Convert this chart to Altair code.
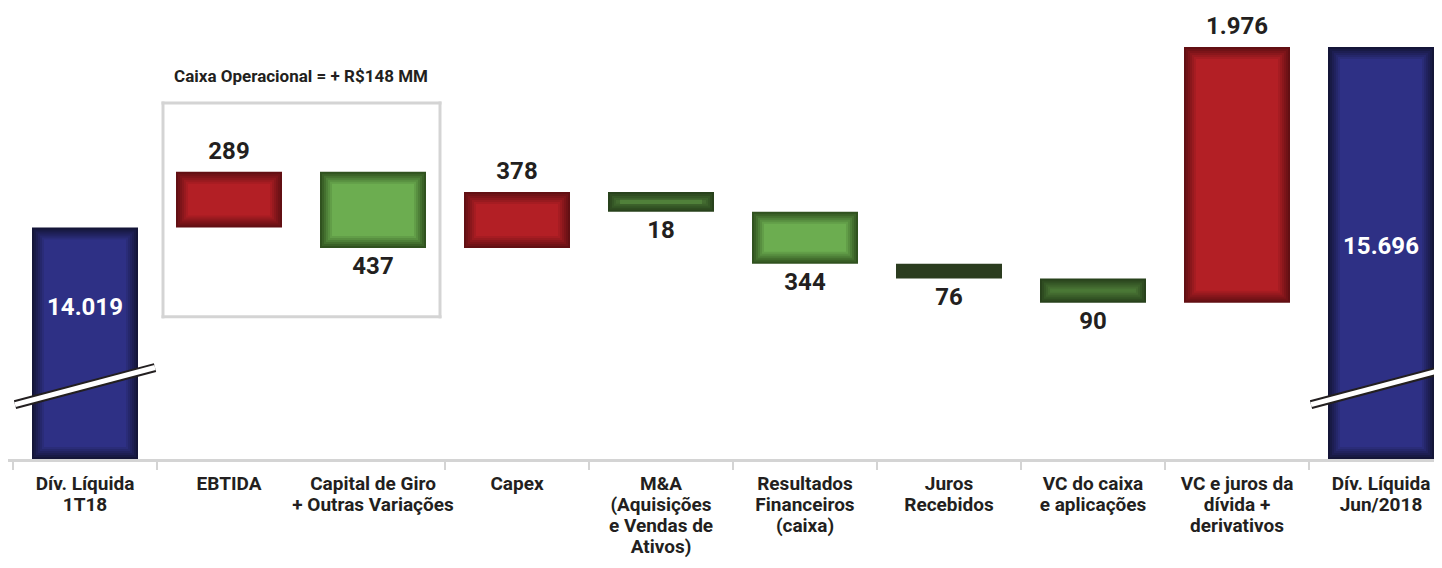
import altair as alt
import pandas as pd

# ---------------- data ----------------
categories = [
    "Dív. Líquida\n1T18",
    "EBTIDA",
    "Capital de Giro\n+ Outras Variações",
    "Capex",
    "M&A\n(Aquisições\ne Vendas de\nAtivos)",
    "Resultados\nFinanceiros\n(caixa)",
    "Juros\nRecebidos",
    "VC do caixa\ne aplicações",
    "VC e juros da\ndívida +\nderivativos",
    "Dív. Líquida\nJun/2018",
]
values = [14019, 289, 437, 378, 18, 344, 76, 90, 1976, 15696]
kinds = ["total", "up", "down", "up", "down2", "down", "flat", "down2", "up", "total"]
# drawn bar extents on the (broken, not-to-scale) chart axis, 0 = baseline, 100 = tallest bar
bar_top = [56.2, 69.7, 69.7, 64.8, 64.8, 60.0, 47.4, 43.8, 100.0, 100.0]
bar_bottom = [0.0, 56.2, 51.2, 51.2, 60.0, 47.4, 43.8, 37.9, 37.9, 0.0]

group_title = "Caixa Operacional = + R$148 MM"
group_members = ["EBTIDA", "Capital de Giro\n+ Outras Variações"]

# ---------------- styling ----------------
FONT = "Roboto"
TXT = "#231f20"
GRID = "#d4d4d4"
palette = {
    "total": ("#141538", "#2e3085"),
    "up": ("#620f13", "#b31f25"),
    "down": ("#30521f", "#6cad50"),
    "down2": ("#28421c", "#50803a"),
    "flat": ("#2b3c1f", "#2b3c1f"),
}


def mix(c1, c2, t):
    a = [int(c1[i:i + 2], 16) for i in (1, 3, 5)]
    b = [int(c2[i:i + 2], 16) for i in (1, 3, 5)]
    return "#" + "".join(f"{round(x + (y - x) * t):02x}" for x, y in zip(a, b))


def fmt(v):
    return f"{v:,}".replace(",", ".")


steps = [0, 2, 4, 6, 8, 10, 12]
df = pd.DataFrame({
    "cat": categories,
    "top": bar_top,
    "bottom": bar_bottom,
    "kind": kinds,
    "label": [fmt(v) for v in values],
})
for k in steps:
    df[f"c{k}"] = [mix(palette[kd][0], palette[kd][1], k / steps[-1]) for kd in kinds]

BAR_W = 106
xscale = alt.Scale(domain=categories, range=[5, 1445], paddingInner=0.264, paddingOuter=0.132)
X = alt.X("cat:N", scale=xscale, axis=None)
yscale = alt.Scale(domain=[0, 100], range=[451, 39])
base = alt.Chart(df)

layers = []
# bevelled bars: stacked insets from dark edge to bright centre
for k in steps:
    layers.append(
        base.mark_bar(width=BAR_W - 2 * k, yOffset=k, y2Offset=-k).encode(
            x=X,
            y=alt.Y("top:Q", scale=yscale, axis=None),
            y2="bottom:Q",
            color=alt.Color(f"c{k}:N", scale=None),
        )
    )

# value labels
lab_style = dict(font=FONT, fontSize=24, fontWeight="bold", baseline="middle")
layers.append(
    base.transform_filter(alt.datum.kind == "up")
    .mark_text(dy=-20, color=TXT, **lab_style)
    .encode(x=X, y=alt.Y("top:Q", scale=yscale), text="label:N")
)
layers.append(
    base.transform_filter((alt.datum.kind != "up") & (alt.datum.kind != "total"))
    .mark_text(dy=19, color=TXT, **lab_style)
    .encode(x=X, y=alt.Y("bottom:Q", scale=yscale), text="label:N")
)
tot = df[df.kind == "total"].copy()
tot["ly"] = [36.7, 51.5]
layers.append(
    alt.Chart(tot).mark_text(color="white", **lab_style)
    .encode(x=X, y=alt.Y("ly:Q", scale=yscale), text="label:N")
)

# baseline axis + separator ticks
layers.append(
    alt.Chart(pd.DataFrame({"lvl": [0]})).mark_rule(color=GRID, strokeWidth=3, yOffset=1.5)
    .encode(y=alt.Y("lvl:Q", scale=yscale), x=alt.value(0), x2=alt.value(1426))
)
tick_df = pd.DataFrame({"cat": [c for c in categories if c != group_members[1]]})
layers.append(
    alt.Chart(tick_df).mark_rule(color=GRID, strokeWidth=2, xOffset=-72)
    .encode(x=X, y=alt.value(452), y2=alt.value(462))
)

# category labels
layers.append(
    alt.Chart(pd.DataFrame({"cat": categories})).mark_text(
        font=FONT, fontSize=19, fontWeight="bold", color=TXT, baseline="top",
        lineBreak="\n", lineHeight=21,
    ).encode(x=X, y=alt.value(467), text="cat:N")
)

# "Caixa Operacional" box
box_top, box_bottom = 86.4, 34.5
layers.append(
    alt.Chart(pd.DataFrame({"cat": [group_members[0]] * 2, "cat2": [group_members[1]] * 2,
                            "y": [box_top, box_bottom]}))
    .mark_rule(color=GRID, strokeWidth=3, xOffset=-66, x2Offset=67, strokeCap="square")
    .encode(x=X, x2="cat2:N", y=alt.Y("y:Q", scale=yscale))
)
for member, off in [(group_members[0], -66), (group_members[1], 67)]:
    layers.append(
        alt.Chart(pd.DataFrame({"cat": [member], "y": [box_top], "y2": [box_bottom]}))
        .mark_rule(color=GRID, strokeWidth=3, xOffset=off, strokeCap="square")
        .encode(x=X, y=alt.Y("y:Q", scale=yscale), y2="y2:Q")
    )
layers.append(
    alt.Chart(pd.DataFrame({"cat": [group_members[0]], "y": [92.7], "t": [group_title]}))
    .mark_text(font=FONT, fontSize=17, fontWeight="bold", color=TXT, dx=72, baseline="middle")
    .encode(x=X, y=alt.Y("y:Q", scale=yscale), text="t:N")
)

# axis-break marks on the two total bars
brk = pd.DataFrame({"cat": [categories[0], categories[-1]], "y0": [13.2, 13.2], "y1": [22.2, 22.2]})
for col, w in [("#231f20", 9), ("white", 5)]:
    layers.append(
        alt.Chart(brk).mark_rule(color=col, strokeWidth=w, xOffset=-70, x2Offset=70, strokeCap="butt")
        .encode(x=X, x2="cat:N", y=alt.Y("y0:Q", scale=yscale), y2="y1:Q")
    )

chart = (
    alt.layer(*layers)
    .properties(width=1426, height=552, padding=0, autosize=alt.AutoSizeParams(type="none"))
    .configure_view(stroke=None)
)
chart.save("out.html", embed_options={"renderer": "svg", "actions": False})
